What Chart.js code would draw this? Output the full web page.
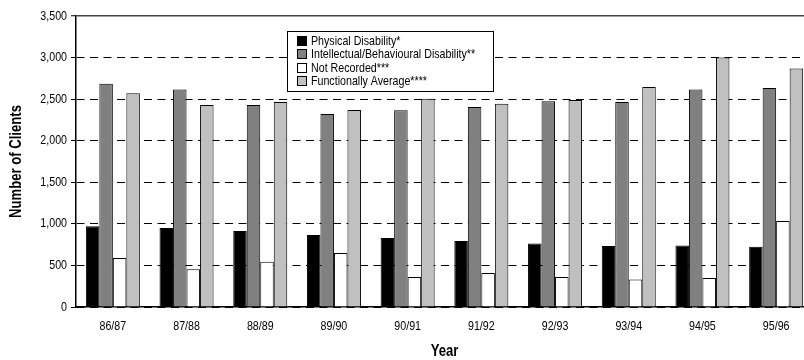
<!DOCTYPE html>
<html>
<head>
<meta charset="utf-8">
<script src="https://cdn.jsdelivr.net/npm/chart.js@4.4.1/dist/chart.umd.min.js"></script>
<style>
  html, body { margin: 0; padding: 0; background: #fff; overflow: hidden; }
  #wrap { width: 820px; height: 360px; }
</style>
</head>
<body>
<div id="wrap"><canvas id="chart" width="820" height="360"></canvas></div>
<script>
// client numbers by year and disability type
const years = ['86/87', '87/88', '88/89', '89/90', '90/91', '91/92', '92/93', '93/94', '94/95', '95/96'];
const physical = [970, 950, 915, 865, 830, 795, 765, 735, 740, 725];
const intellectual = [2685, 2615, 2430, 2320, 2365, 2405, 2475, 2465, 2615, 2635];
const notRecorded = [590, 455, 545, 650, 360, 410, 360, 330, 350, 1035];
const functional = [2570, 2430, 2465, 2370, 2505, 2445, 2490, 2645, 3000, 2870];

const seriesNames = ['Physical Disability*', 'Intellectual/Behavioural Disability**', 'Not Recorded***', 'Functionally Average****'];
const seriesColours = ['#000000', '#808080', '#ffffff', '#c0c0c0'];

const FONT = "'Liberation Sans', Arial, sans-serif";

// no narrow face installed: squeeze all canvas text horizontally instead
const NARROW = 0.82;
const canvas = document.getElementById('chart');
const g = canvas.getContext('2d');
const rawFill = g.fillText.bind(g);
const rawMeasure = g.measureText.bind(g);
g.fillText = function (text, x, y) {
  this.save();
  this.translate(x, y);
  this.scale(NARROW, 1);
  rawFill(text, 0, 0);
  this.restore();
};
g.measureText = function (text) {
  const m = rawMeasure(text);
  return {
    width: m.width * NARROW,
    actualBoundingBoxAscent: m.actualBoundingBoxAscent,
    actualBoundingBoxDescent: m.actualBoundingBoxDescent
  };
};

// boxed key sitting inside the plot area
const boxLegend = {
  id: 'boxLegend',
  afterDraw(chart) {
    const ctx = chart.ctx;
    ctx.save();
    ctx.fillStyle = '#fff';
    ctx.strokeStyle = '#000';
    ctx.lineWidth = 1;
    ctx.fillRect(287.5, 31.5, 206, 60);
    ctx.strokeRect(287.5, 31.5, 206, 60);
    ctx.font = '13px ' + FONT;
    ctx.textBaseline = 'middle';
    ctx.textAlign = 'left';
    chart.data.datasets.forEach((ds, i) => {
      const cy = Math.round(41 + i * 13.3);
      ctx.fillStyle = ds.backgroundColor;
      ctx.fillRect(297.5, cy - 4.5, 9, 9);
      ctx.strokeRect(297.5, cy - 4.5, 9, 9);
      ctx.fillStyle = '#000';
      ctx.fillText(ds.label, 311, cy + 0.5);
    });
    ctx.restore();
  }
};

const values = [physical, intellectual, notRecorded, functional];

new Chart(canvas, {
  type: 'bar',
  data: {
    labels: years,
    datasets: values.map((data, i) => ({
      label: seriesNames[i],
      data: data,
      backgroundColor: seriesColours[i],
      borderColor: '#000',
      borderWidth: 1
    }))
  },
  options: {
    responsive: false,
    animation: false,
    layout: { padding: { top: 16, right: 7, left: 0, bottom: 0 } },
    plugins: {
      legend: { display: false },
      tooltip: { enabled: false }
    },
    datasets: {
      bar: { categoryPercentage: 0.733, barPercentage: 1 }
    },
    scales: {
      x: {
        grid: { display: false, drawTicks: false },
        border: { display: true, color: '#000', width: 1.5 },
        ticks: { color: '#000', padding: 12, font: { family: FONT, size: 13 } },
        title: {
          display: true, text: 'Year', color: '#000', padding: 0,
          font: { family: FONT, size: 16, weight: 'bold', lineHeight: 1 }
        },
        afterFit(scale) { scale.height = 53; }
      },
      y: {
        min: 0,
        max: 3500,
        ticks: {
          stepSize: 500, color: '#000', padding: 4,
          font: { family: FONT, size: 13 },
          callback: v => v.toLocaleString('en-US')
        },
        grid: {
          color: c => (c.tick && c.tick.value === 3500 ? '#444' : '#000'),
          lineWidth: c => (c.tick && c.tick.value === 3500 ? 1.5 : 1),
          tickLength: 5,
          tickColor: '#000',
          tickWidth: 1
        },
        border: {
          display: true, color: '#000', width: 1.5,
          dash: c => (c.tick && c.tick.value === 3500 ? [] : [8, 5.5])
        },
        title: {
          display: true, text: 'Number of Clients', color: '#000',
          padding: { top: 9 },
          font: { family: FONT, size: 16, weight: 'bold', lineHeight: 1 }
        },
        afterFit(scale) { scale.width = 76; }
      }
    }
  },
  plugins: [boxLegend]
});
</script>
</body>
</html>
